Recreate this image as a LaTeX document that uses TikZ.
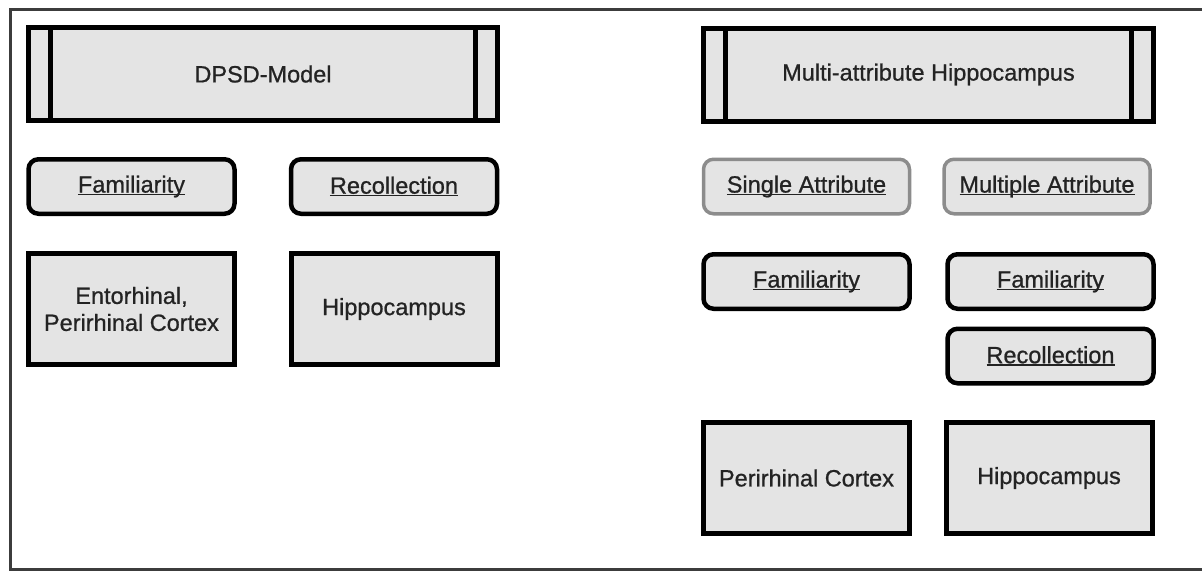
\documentclass[tikz,border=0pt]{standalone}
\usepackage{fontspec}
\setmainfont{Liberation Sans}
\newfontfamily\labelfont{Liberation Sans}[FakeBold=0.8]
\definecolor{boxfill}{RGB}{228,228,228}
\definecolor{attrline}{RGB}{140,140,140}
\definecolor{labeltext}{RGB}{35,35,35}
\definecolor{framegray}{RGB}{60,60,60}
\newcommand{\ulabel}[1]{\setbox0=\hbox{#1}\rlap{\rule[-2.6pt]{\wd0}{1.5pt}}\box0}

\begin{document}
\begin{tikzpicture}[x=1pt, y=-1pt,
    box/.style ={rectangle, draw, line width=5pt, fill=boxfill, outer sep=0pt,
      inner sep=2pt, text=labeltext, align=center,
      font=\labelfont\fontsize{23.5}{27}\selectfont},
    process/.style ={box, minimum height=93pt},
    region/.style ={box, minimum width=206pt, minimum height=111pt},
    mode/.style ={box, rounded corners=10pt, line width=4.5pt,
      minimum width=206pt, minimum height=54.5pt},
    attribute/.style ={mode, draw=attrline, line width=3.5pt}]
   \useasboundingbox (0,0) rectangle (1202,573);
   \clip (0,0) rectangle (1202,573);
   \draw[framegray, line width=3pt] (10,9.5) rectangle (1230,569.5);
   % DPSD model
   \node[process, minimum width=469pt] (dpsd) at (263,74) {DPSD-Model};
   \node[mode] (famL) at (131.5,186.5) {\ulabel{Familiarity}};
   \node[mode] (recL) at (394,186.5) {\ulabel{Recollection}};
   \node[region] (ctxL) at (131.5,309) {Entorhinal,\\Perirhinal Cortex};
   \node[region] (hipL) at (394,309) {Hippocampus};
   % multi-attribute hippocampus
   \node[process, minimum width=450pt] (multi) at (928.5,74.5) {Multi-attribute Hippocampus};
   \node[attribute] (single) at (806.5,186.5) {\ulabel{Single Attribute}};
   \node[attribute] (multiple) at (1047,186.5) {\ulabel{Multiple Attribute}};
   \node[mode] (famS) at (806.5,281.5) {\ulabel{Familiarity}};
   \node[mode] (famM) at (1050.5,281.5) {\ulabel{Familiarity}};
   \node[mode] (recM) at (1050.5,356) {\ulabel{Recollection}};
   \node[region] (ctxR) at (806.5,478) {Perirhinal Cortex};
   \node[region] (hipR) at (1049,478) {Hippocampus};
   \foreach \p in {dpsd, multi} {
     \draw[line width=5pt] ([xshift=22pt]\p.north west) -- ([xshift=22pt]\p.south west);
     \draw[line width=5pt] ([xshift=-22pt]\p.north east) -- ([xshift=-22pt]\p.south east);
   }
 \end{tikzpicture}
\end{document}
